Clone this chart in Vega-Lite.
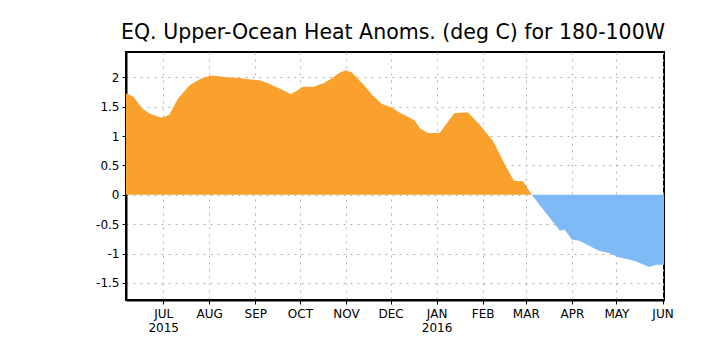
{
  "$schema": "https://vega.github.io/schema/vega-lite/v6.json",
  "width": 538,
  "height": 248,
  "autosize": {"type": "none"},
  "padding": {"left": 126, "top": 52, "right": 42, "bottom": 46},
  "background": "white",
  "title": {
    "text": "EQ. Upper-Ocean Heat Anoms. (deg C) for 180-100W",
    "font": "DejaVu Sans",
    "fontSize": 20.5,
    "fontWeight": "normal",
    "color": "black",
    "anchor": "middle",
    "offset": 9,
    "dx": -2
  },
  "config": {
    "view": {"stroke": "black", "strokeWidth": 2},
    "axis": {
      "labelFont": "DejaVu Sans",
      "labelFontSize": 12,
      "labelColor": "black",
      "domainColor": "black",
      "domainWidth": 2,
      "tickColor": "black",
      "tickSize": 4,
      "gridColor": "#b0b0b0",
      "gridDash": [2, 5],
      "gridWidth": 1,
      "title": null
    }
  },
  "data": {
    "values": [
      {"date": "2015-06-06", "v": 1.73},
      {"date": "2015-06-11", "v": 1.67},
      {"date": "2015-06-17", "v": 1.47},
      {"date": "2015-06-22", "v": 1.38},
      {"date": "2015-06-30", "v": 1.31},
      {"date": "2015-07-05", "v": 1.36},
      {"date": "2015-07-11", "v": 1.64},
      {"date": "2015-07-19", "v": 1.87},
      {"date": "2015-07-26", "v": 1.97},
      {"date": "2015-08-02", "v": 2.03},
      {"date": "2015-08-06", "v": 2.02},
      {"date": "2015-08-13", "v": 2.0},
      {"date": "2015-08-20", "v": 1.99},
      {"date": "2015-08-26", "v": 1.97},
      {"date": "2015-09-04", "v": 1.95},
      {"date": "2015-09-11", "v": 1.88},
      {"date": "2015-09-18", "v": 1.8},
      {"date": "2015-09-25", "v": 1.71},
      {"date": "2015-09-29", "v": 1.77},
      {"date": "2015-10-03", "v": 1.84},
      {"date": "2015-10-10", "v": 1.84},
      {"date": "2015-10-17", "v": 1.9},
      {"date": "2015-10-23", "v": 1.99},
      {"date": "2015-10-28", "v": 2.08},
      {"date": "2015-11-01", "v": 2.12},
      {"date": "2015-11-05", "v": 2.08},
      {"date": "2015-11-13", "v": 1.87},
      {"date": "2015-11-19", "v": 1.69},
      {"date": "2015-11-25", "v": 1.55},
      {"date": "2015-12-02", "v": 1.48},
      {"date": "2015-12-07", "v": 1.4},
      {"date": "2015-12-11", "v": 1.35},
      {"date": "2015-12-17", "v": 1.27},
      {"date": "2015-12-21", "v": 1.13},
      {"date": "2015-12-26", "v": 1.05},
      {"date": "2016-01-03", "v": 1.05},
      {"date": "2016-01-13", "v": 1.39},
      {"date": "2016-01-22", "v": 1.4},
      {"date": "2016-01-30", "v": 1.19},
      {"date": "2016-02-08", "v": 0.91},
      {"date": "2016-02-16", "v": 0.51},
      {"date": "2016-02-22", "v": 0.24},
      {"date": "2016-02-28", "v": 0.23},
      {"date": "2016-03-01", "v": 0.16},
      {"date": "2016-03-05", "v": 0.0},
      {"date": "2016-03-12", "v": -0.23},
      {"date": "2016-03-18", "v": -0.42},
      {"date": "2016-03-24", "v": -0.61},
      {"date": "2016-03-27", "v": -0.59},
      {"date": "2016-04-01", "v": -0.76},
      {"date": "2016-04-06", "v": -0.78},
      {"date": "2016-04-13", "v": -0.87},
      {"date": "2016-04-19", "v": -0.95},
      {"date": "2016-04-26", "v": -0.99},
      {"date": "2016-05-02", "v": -1.06},
      {"date": "2016-05-07", "v": -1.09},
      {"date": "2016-05-14", "v": -1.13},
      {"date": "2016-05-23", "v": -1.23},
      {"date": "2016-05-28", "v": -1.19},
      {"date": "2016-06-02", "v": -1.19}
    ]
  },
  "encoding": {
    "x": {
      "field": "date",
      "type": "temporal",
      "scale": {
        "type": "utc",
        "domain": [
          {"year": 2015, "month": 6, "date": 6, "utc": true},
          {"year": 2016, "month": 6, "date": 2, "utc": true}
        ]
      },
      "axis": {
        "values": [
          {"year": 2015, "month": 7, "date": 1, "utc": true},
          {"year": 2015, "month": 8, "date": 1, "utc": true},
          {"year": 2015, "month": 9, "date": 1, "utc": true},
          {"year": 2015, "month": 10, "date": 1, "utc": true},
          {"year": 2015, "month": 11, "date": 1, "utc": true},
          {"year": 2015, "month": 12, "date": 1, "utc": true},
          {"year": 2016, "month": 1, "date": 1, "utc": true},
          {"year": 2016, "month": 2, "date": 1, "utc": true},
          {"year": 2016, "month": 3, "date": 1, "utc": true},
          {"year": 2016, "month": 4, "date": 1, "utc": true},
          {"year": 2016, "month": 5, "date": 1, "utc": true},
          {"year": 2016, "month": 6, "date": 1, "utc": true}
        ],
        "labelExpr": "utcmonth(datum.value) == 6 ? ['JUL', '2015'] : utcmonth(datum.value) == 0 ? ['JAN', '2016'] : upper(utcFormat(datum.value, '%b'))",
        "labelPadding": 4,
        "labelLineHeight": 14,
        "labelFlush": false,
        "labelOverlap": false
      }
    },
    "y": {
      "field": "v",
      "type": "quantitative",
      "scale": {"domain": [-1.79, 2.43], "nice": false, "zero": false},
      "axis": {
        "values": [-1.5, -1, -0.5, 0, 0.5, 1, 1.5, 2],
        "labelExpr": "toString(datum.value)",
        "labelPadding": 3
      }
    }
  },
  "layer": [
    {
      "transform": [{"filter": "datum.v >= 0"}],
      "mark": {"type": "area", "color": "#F9A12C", "opacity": 1}
    },
    {
      "transform": [{"filter": "datum.v <= 0"}],
      "mark": {"type": "area", "color": "#7EBAF5", "opacity": 1}
    }
  ]
}
